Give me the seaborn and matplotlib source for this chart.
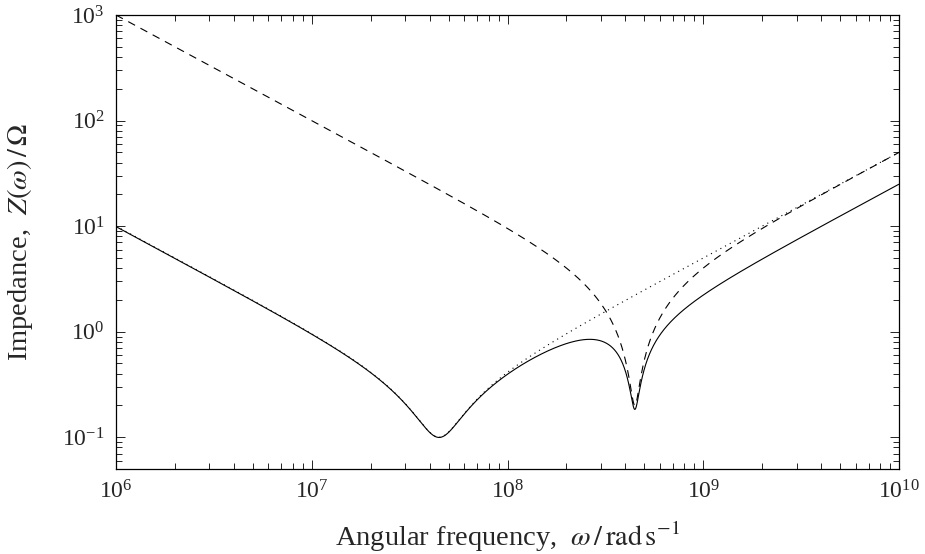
import numpy as np
import pandas as pd
import matplotlib
matplotlib.use("Agg")
import matplotlib.pyplot as plt
import seaborn as sns

# Two decoupling capacitors (series R-L-C models) and their combination
capacitance = [100e-9, 1e-9]      # F
inductance = [5e-9, 5e-9]         # H (equivalent series inductance)
resistance = [0.1, 0.2]           # ohm (equivalent series resistance)
omega_range = [1e6, 1e10]         # rad/s
y_limits = [0.05, 1e3]
x_ticks = [1e6, 1e7, 1e8, 1e9, 1e10]
y_ticks = [1e-1, 1e0, 1e1, 1e2, 1e3]

omega = np.logspace(np.log10(omega_range[0]), np.log10(omega_range[1]), 4000)


def branch_magnitude(c, l, r):
    return np.abs(r + 1j * (omega * l - 1.0 / (omega * c)))


z1 = branch_magnitude(capacitance[0], inductance[0], resistance[0])
z2 = branch_magnitude(capacitance[1], inductance[1], resistance[1])
zp = z1 * z2 / (z1 + z2)

df = pd.DataFrame({
    "omega": np.tile(omega, 3),
    "Z": np.concatenate([zp, z2, z1]),
    "curve": ["combined"] * len(omega) + ["C2"] * len(omega) + ["C1"] * len(omega),
})

sns.set_style("white")
plt.rcParams["font.family"] = ["Liberation Serif", "DejaVu Serif"]
plt.rcParams["mathtext.fontset"] = "stix"

fig = plt.figure(figsize=(9.25, 5.54), dpi=100)
ax = fig.add_axes([0.1254, 0.1534, 0.8465, 0.8195])

lw = 0.8
styles = {"combined": (0, ()), "C2": (0, (7, 5.5)), "C1": (0, (1, 3.8))}
for name in ["combined", "C2", "C1"]:
    sns.lineplot(data=df[df["curve"] == name], x="omega", y="Z", ax=ax,
                 color="black", lw=lw, linestyle=styles[name],
                 estimator=None, sort=False)

ax.set_xscale("log")
ax.set_yscale("log")
ax.set_xlim(*omega_range)
ax.set_ylim(*y_limits)
ax.set_xticks(x_ticks)
ax.set_yticks(y_ticks)

for s in ax.spines.values():
    s.set_color("black")
    s.set_linewidth(0.9)

ax.tick_params(which="both", direction="in", top=True, right=True,
               bottom=True, left=True, color="black", width=0.6)
ax.tick_params(which="major", length=6.5, labelsize=17, pad=8)
ax.tick_params(which="minor", length=4.5)

ax.set_xlabel(r"Angular frequency,  $\omega\,/\,\mathrm{rad\,s^{-1}}$", fontsize=20.5)
ax.set_ylabel(r"Impedance,  $Z(\omega)\,/\,\Omega$", fontsize=20.5)
ax.xaxis.set_label_coords(0.5, -0.112)
ax.yaxis.set_label_coords(-0.1034, 0.5)

fig.savefig("out.png", dpi=100)
